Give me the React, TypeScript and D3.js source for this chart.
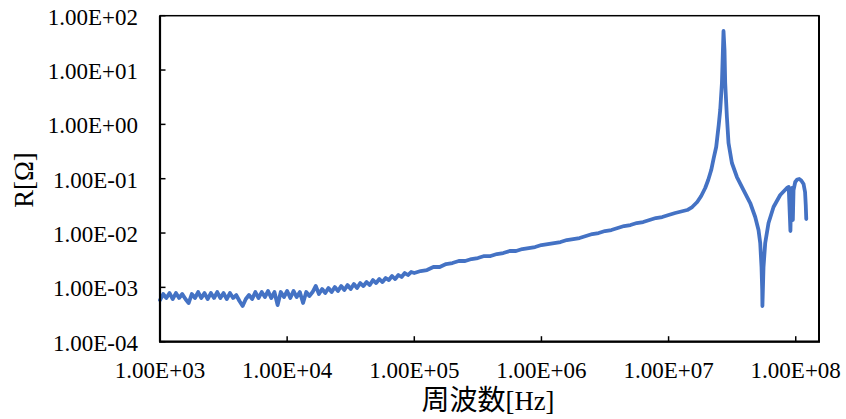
import React from "react";
import * as d3 from "d3";

// Sweep frequencies [Hz] and measured resistance R [Ω]
const freqLow: number[] = [
  1000, 1059, 1122, 1189, 1259, 1334, 1413, 1496, 1585, 1679,
  1778, 1884, 1995, 2113, 2239, 2371, 2512, 2661, 2818, 2985,
  3162, 3350, 3548, 3758, 3981, 4217, 4467, 4732, 5012, 5309,
  5623, 5957, 6310, 6683, 7079, 7499, 7943, 8414, 8913, 9441,
  10000, 10590, 11220, 11890, 12590, 13340, 14130, 14960, 15850, 16790,
  17780, 18840, 19950, 21130, 22390, 23710, 25120, 26610, 28180, 29850,
  31620, 33500, 35480, 37580, 39810, 42170, 44670, 47320, 50120, 53090,
  56230, 59570, 63100, 66830, 70790, 74990, 79430, 84140, 89130, 94410,
  100000,
];
const resLow: number[] = [
  5.85e-4, 7.54e-4, 6.37e-4, 7.87e-4, 6.10e-4, 7.87e-4, 6.37e-4, 7.54e-4, 6.10e-4, 5.15e-4,
  7.54e-4, 6.37e-4, 8.21e-4, 6.37e-4, 7.87e-4, 6.10e-4, 7.87e-4, 6.37e-4, 8.21e-4, 6.37e-4,
  7.87e-4, 6.10e-4, 7.87e-4, 6.37e-4, 7.23e-4, 5.61e-4, 4.54e-4, 6.10e-4, 7.23e-4, 6.10e-4,
  8.21e-4, 6.37e-4, 8.21e-4, 6.64e-4, 8.57e-4, 6.37e-4, 8.21e-4, 4.73e-4, 8.21e-4, 6.64e-4,
  8.57e-4, 6.37e-4, 8.57e-4, 6.64e-4, 8.21e-4, 5.15e-4, 8.21e-4, 6.93e-4, 8.21e-4, 1.059e-3,
  7.54e-4, 9.32e-4, 7.87e-4, 9.73e-4, 8.21e-4, 1.015e-3, 8.57e-4, 1.059e-3, 8.94e-4, 1.104e-3,
  9.32e-4, 1.152e-3, 9.73e-4, 1.202e-3, 1.059e-3, 1.254e-3, 1.104e-3, 1.365e-3, 1.202e-3, 1.424e-3,
  1.254e-3, 1.486e-3, 1.365e-3, 1.617e-3, 1.424e-3, 1.688e-3, 1.551e-3, 1.837e-3, 1.688e-3, 1.917e-3,
  1.837e-3,
];

const freqMid: number[] = [
  112200, 125900, 141300, 158500, 177800, 199500, 223900, 251200, 281800, 316200,
  354800, 398100, 446700, 501200, 562300, 631000, 707900, 794300, 891300, 1000000,
  1122000, 1259000, 1413000, 1585000, 1778000, 1995000, 2239000, 2512000, 2818000, 3162000,
  3548000, 3981000, 4467000, 5012000, 5623000, 6310000, 7079000, 7943000, 8913000, 10000000,
];
const resMid: number[] = [
  2.000e-3, 2.086e-3, 2.369e-3, 2.369e-3, 2.690e-3, 2.806e-3, 3.054e-3, 3.054e-3, 3.323e-3, 3.467e-3,
  3.773e-3, 3.773e-3, 4.109e-3, 4.287e-3, 4.667e-3, 4.667e-3, 5.079e-3, 5.299e-3, 5.529e-3, 6.017e-3,
  6.278e-3, 6.553e-3, 6.835e-3, 7.438e-3, 7.760e-3, 8.097e-3, 8.812e-3, 9.592e-3, 1.001e-2, 1.089e-2,
  1.136e-2, 1.237e-2, 1.346e-2, 1.405e-2, 1.529e-2, 1.595e-2, 1.737e-2, 1.890e-2, 1.972e-2, 2.147e-2,
];

const freqHigh: number[] = [
  1.127e7, 1.256e7, 1.401e7, 1.534e7, 1.679e7, 1.805e7, 1.941e7, 2.049e7, 2.164e7, 2.264e7,
  2.368e7, 2.479e7, 2.547e7, 2.627e7, 2.675e7, 2.704e7, 2.753e7, 2.788e7, 2.875e7, 2.960e7,
  3.148e7, 3.447e7, 3.885e7, 4.385e7, 4.801e7, 5.096e7, 5.256e7, 5.381e7, 5.449e7, 5.470e7,
  5.579e7, 5.754e7, 6.109e7, 6.689e7, 7.551e7, 8.525e7, 8.808e7, 9.084e7, 9.200e7, 9.386e7,
  9.489e7, 9.610e7, 9.911e7, 1.027e8, 1.065e8, 1.105e8, 1.152e8, 1.184e8, 1.199e8, 1.210e8,
];
const resHigh: number[] = [
  0.02336, 0.02489, 0.02652, 0.03012, 0.03724, 0.04801, 0.06740, 0.09460, 0.1445, 0.2403,
  0.3832, 0.9732, 1.837, 5.771, 23.37, 52.29, 23.37, 5.771, 1.366, 0.4539,
  0.1944, 0.1074, 0.06190, 0.03569, 0.01972, 0.01136, 0.006553, 0.002369, 8.94e-4, 4.536e-4,
  0.002369, 0.006553, 0.01529, 0.03012, 0.05010, 0.06740, 0.07031, 0.01089, 0.05689, 0.0674,
  0.01737, 0.0619, 0.08692, 0.09663, 0.09870, 0.09262, 0.07985, 0.05689, 0.03279, 0.01811,
];

const xTicks: number[] = [1e3, 1e4, 1e5, 1e6, 1e7, 1e8];
const yTicks: number[] = [1e-4, 1e-3, 1e-2, 1e-1, 1e0, 1e1, 1e2];
const xDomain: [number, number] = [1e3, 1.524e8];
const yDomain: [number, number] = [1e-4, 1e2];

const W = 846;
const H = 419;
const plot = { left: 160, right: 819, top: 15.7, bottom: 341.7 };

const serif = "'Liberation Serif', 'Times New Roman', serif";

function sci(v: number): string {
  const e = Math.round(Math.log10(v));
  const m = v / Math.pow(10, e);
  const sign = e < 0 ? "-" : "+";
  const abs = Math.abs(e).toString().padStart(2, "0");
  return `${m.toFixed(2)}E${sign}${abs}`;
}

export default function App() {
  const x = d3.scaleLog().domain(xDomain).range([plot.left, plot.right]);
  const y = d3.scaleLog().domain(yDomain).range([plot.bottom, plot.top]);

  const freq = [...freqLow, ...freqMid, ...freqHigh];
  const res = [...resLow, ...resMid, ...resHigh];
  const pts: [number, number][] = freq.map((f, i) => [f, res[i]]);

  const line = d3
    .line<[number, number]>()
    .x((d) => x(d[0]))
    .y((d) => y(d[1]));

  return (
    <svg
      width={W}
      height={H}
      style={{ position: "absolute", left: 0, top: 0, background: "#fff" }}
    >
      <rect x={0} y={0} width={W} height={H} fill="#fff" />

      {/* measured curve */}
      <path
        d={line(pts) || ""}
        fill="none"
        stroke="#4472C4"
        strokeWidth={3.8}
        strokeLinejoin="round"
        strokeLinecap="round"
      />

      {/* plot frame */}
      <rect
        x={plot.left}
        y={plot.top}
        width={plot.right - plot.left}
        height={plot.bottom - plot.top}
        fill="none"
        stroke="#000"
        strokeWidth={1.5}
      />
      <line x1={plot.left} x2={plot.left} y1={plot.top} y2={plot.bottom} stroke="#000" strokeWidth={2.2} />
      <line x1={plot.left - 1} x2={plot.right + 1} y1={plot.bottom} y2={plot.bottom} stroke="#000" strokeWidth={2.2} />
      <line x1={plot.right} x2={plot.right} y1={plot.top} y2={plot.bottom} stroke="#000" strokeWidth={2} />

      {/* y axis ticks and labels */}
      {yTicks.map((t) => (
        <g key={`y${t}`}>
          <line x1={plot.left} x2={plot.left + 5.5} y1={y(t)} y2={y(t)} stroke="#000" strokeWidth={1.5} />
          <text
            x={138}
            y={y(t) + 9}
            textAnchor="end"
            fontFamily={serif}
            fontSize={23}
            fill="#000"
          >
            {sci(t)}
          </text>
        </g>
      ))}

      {/* x axis ticks and labels */}
      {xTicks.map((t) => (
        <g key={`x${t}`}>
          <line x1={x(t)} x2={x(t)} y1={plot.bottom} y2={plot.bottom - 5.5} stroke="#000" strokeWidth={1.5} />
          <text
            x={x(t)}
            y={378}
            textAnchor="middle"
            fontFamily={serif}
            fontSize={23}
            fill="#000"
          >
            {sci(t)}
          </text>
        </g>
      ))}

      {/* axis titles */}
      <text
        transform={`translate(33,180) rotate(-90)`}
        textAnchor="middle"
        fontFamily={serif}
        fontSize={26.7}
        fill="#000"
      >
        R[Ω]
      </text>
      <text x={488} y={410} textAnchor="middle" fontFamily={serif} fontSize={26.7} fill="#000">
        <tspan fontFamily="'Noto Sans CJK JP', sans-serif" fontSize={28}>周波数</tspan>
        <tspan>[Hz]</tspan>
      </text>
    </svg>
  );
}
